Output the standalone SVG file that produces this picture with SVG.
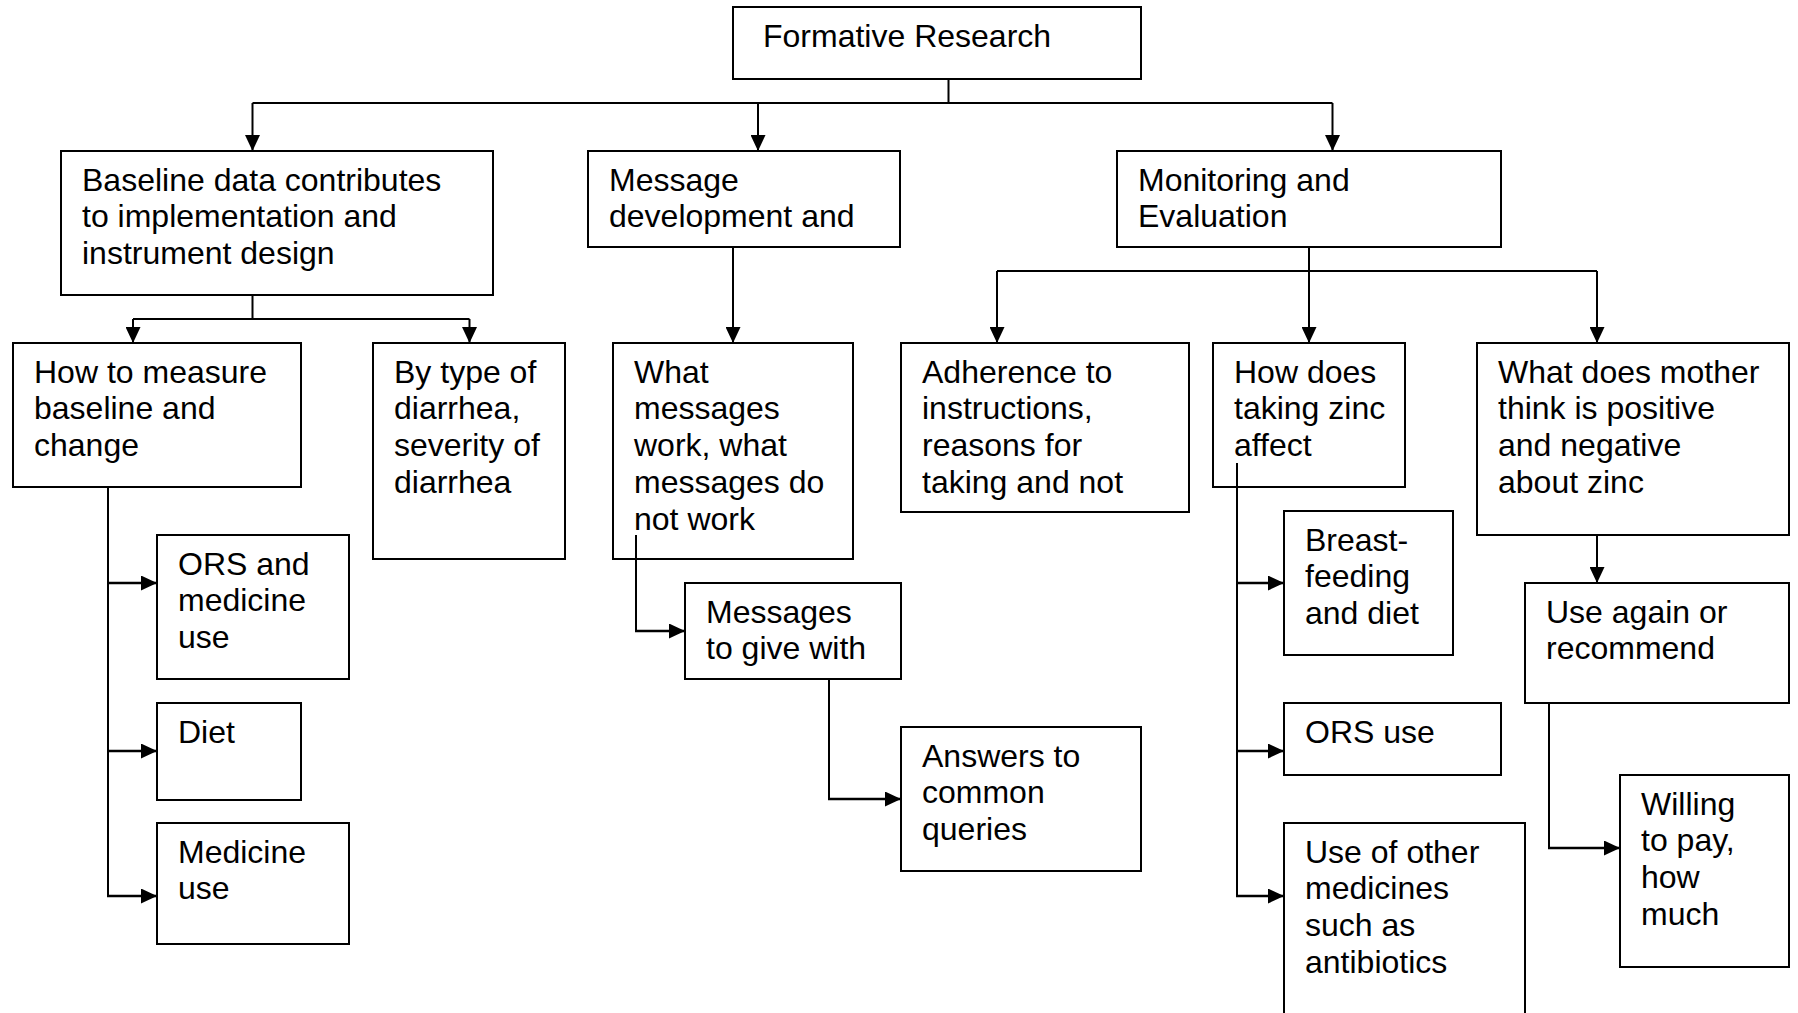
<svg xmlns="http://www.w3.org/2000/svg" width="1798" height="1013" viewBox="0 0 1798 1013">
<style>
.box{fill:#fff;stroke:#000;stroke-width:2}
.t{font-family:"Liberation Sans",Arial,sans-serif;font-size:32px;fill:#000}
.c{fill:none;stroke:#000;stroke-width:2}
.h{stroke-width:2.6}
.a{marker-end:url(#arr)}
</style>
<defs>
<marker id="arr" markerUnits="userSpaceOnUse" markerWidth="16" markerHeight="15" refX="16" refY="7.5" orient="auto">
<path d="M0,0 L16,7.5 L0,15 z" fill="#000"/>
</marker>
</defs>
<rect width="1798" height="1013" fill="#fff"/>
<g id="formative">
<rect class="box" x="733" y="7" width="408" height="72"/>
<text class="t" x="763" y="47">Formative Research</text>
</g>
<g id="baseline">
<rect class="box" x="61" y="151" width="432" height="144"/>
<text class="t" x="82" y="190.5">Baseline data contributes</text>
<text class="t" x="82" y="227.4">to implementation and</text>
<text class="t" x="82" y="264.3">instrument design</text>
</g>
<g id="message-dev">
<rect class="box" x="588" y="151" width="312" height="96"/>
<text class="t" x="609" y="190.5">Message</text>
<text class="t" x="609" y="227.4">development and</text>
</g>
<g id="monitoring">
<rect class="box" x="1117" y="151" width="384" height="96"/>
<text class="t" x="1138" y="190.5">Monitoring and</text>
<text class="t" x="1138" y="227.4">Evaluation</text>
</g>
<g id="how-measure">
<rect class="box" x="13" y="343" width="288" height="144"/>
<text class="t" x="34" y="382.5">How to measure</text>
<text class="t" x="34" y="419.4">baseline and</text>
<text class="t" x="34" y="456.3">change</text>
</g>
<g id="by-type">
<rect class="box" x="373" y="343" width="192" height="216"/>
<text class="t" x="394" y="382.5">By type of</text>
<text class="t" x="394" y="419.4">diarrhea,</text>
<text class="t" x="394" y="456.3">severity of</text>
<text class="t" x="394" y="493.2">diarrhea</text>
</g>
<g id="what-messages">
<rect class="box" x="613" y="343" width="240" height="216"/>
<text class="t" x="634" y="382.5">What</text>
<text class="t" x="634" y="419.4">messages</text>
<text class="t" x="634" y="456.3">work, what</text>
<text class="t" x="634" y="493.2">messages do</text>
<text class="t" x="634" y="530.1">not work</text>
</g>
<g id="adherence">
<rect class="box" x="901" y="343" width="288" height="169"/>
<text class="t" x="922" y="382.5">Adherence to</text>
<text class="t" x="922" y="419.4">instructions,</text>
<text class="t" x="922" y="456.3">reasons for</text>
<text class="t" x="922" y="493.2">taking and not</text>
</g>
<g id="how-does">
<rect class="box" x="1213" y="343" width="192" height="144"/>
<text class="t" x="1234" y="382.5">How does</text>
<text class="t" x="1234" y="419.4">taking zinc</text>
<text class="t" x="1234" y="456.3">affect</text>
</g>
<g id="what-mother">
<rect class="box" x="1477" y="343" width="312" height="192"/>
<text class="t" x="1498" y="382.5">What does mother</text>
<text class="t" x="1498" y="419.4">think is positive</text>
<text class="t" x="1498" y="456.3">and negative</text>
<text class="t" x="1498" y="493.2">about zinc</text>
</g>
<g id="ors-medicine">
<rect class="box" x="157" y="535" width="192" height="144"/>
<text class="t" x="178" y="574.5">ORS and</text>
<text class="t" x="178" y="611.4">medicine</text>
<text class="t" x="178" y="648.3">use</text>
</g>
<g id="diet">
<rect class="box" x="157" y="703" width="144" height="97"/>
<text class="t" x="178" y="742.5">Diet</text>
</g>
<g id="medicine-use">
<rect class="box" x="157" y="823" width="192" height="121"/>
<text class="t" x="178" y="862.5">Medicine</text>
<text class="t" x="178" y="899.4">use</text>
</g>
<g id="messages-give">
<rect class="box" x="685" y="583" width="216" height="96"/>
<text class="t" x="706" y="622.5">Messages</text>
<text class="t" x="706" y="659.4">to give with</text>
</g>
<g id="answers">
<rect class="box" x="901" y="727" width="240" height="144"/>
<text class="t" x="922" y="766.5">Answers to</text>
<text class="t" x="922" y="803.4">common</text>
<text class="t" x="922" y="840.3">queries</text>
</g>
<g id="breastfeeding">
<rect class="box" x="1284" y="511" width="169" height="144"/>
<text class="t" x="1305" y="550.5">Breast-</text>
<text class="t" x="1305" y="587.4">feeding</text>
<text class="t" x="1305" y="624.3">and diet</text>
</g>
<g id="ors-use">
<rect class="box" x="1284" y="703" width="217" height="72"/>
<text class="t" x="1305" y="742.5">ORS use</text>
</g>
<g id="other-medicines">
<rect class="box" x="1284" y="823" width="241" height="210"/>
<text class="t" x="1305" y="862.5">Use of other</text>
<text class="t" x="1305" y="899.4">medicines</text>
<text class="t" x="1305" y="936.3">such as</text>
<text class="t" x="1305" y="973.2">antibiotics</text>
</g>
<g id="use-again">
<rect class="box" x="1525" y="583" width="264" height="120"/>
<text class="t" x="1546" y="622.5">Use again or</text>
<text class="t" x="1546" y="659.4">recommend</text>
</g>
<g id="willing">
<rect class="box" x="1620" y="775" width="169" height="192"/>
<text class="t" x="1641" y="814.5">Willing</text>
<text class="t" x="1641" y="851.4">to pay,</text>
<text class="t" x="1641" y="888.3">how</text>
<text class="t" x="1641" y="925.2">much</text>
</g>
<g id="connectors">
<path class="c" d="M948.5,79 V103 M252.5,103 H1332.5"/>
<path class="c a" d="M252.5,103 V151"/>
<path class="c a" d="M758,103 V151"/>
<path class="c a" d="M1332.5,103 V151"/>
<path class="c" d="M252.5,295 V319 M133,319 H469.5"/>
<path class="c a" d="M133,319 V343"/>
<path class="c a" d="M469.5,319 V343"/>
<path class="c a" d="M733,247 V343"/>
<path class="c a" d="M1309,247 V343"/>
<path class="c" d="M997,271 H1597"/>
<path class="c a" d="M997,271 V343"/>
<path class="c a" d="M1597,271 V343"/>
<path class="c" d="M108,487 V896"/>
<path class="c h a" d="M108,583 H157"/>
<path class="c h a" d="M108,751 H157"/>
<path class="c h a" d="M107,896 H157"/>
<path class="c" d="M636,535 V631"/>
<path class="c h a" d="M635,631 H685"/>
<path class="c" d="M829,679 V799"/>
<path class="c h a" d="M828,799 H901"/>
<path class="c" d="M1237,463 V896"/>
<path class="c h a" d="M1237,583 H1284"/>
<path class="c h a" d="M1237,751 H1284"/>
<path class="c h a" d="M1236,896 H1284"/>
<path class="c a" d="M1597,535 V583"/>
<path class="c" d="M1549,703 V848"/>
<path class="c h a" d="M1548,848 H1620"/>
</g>
</svg>
